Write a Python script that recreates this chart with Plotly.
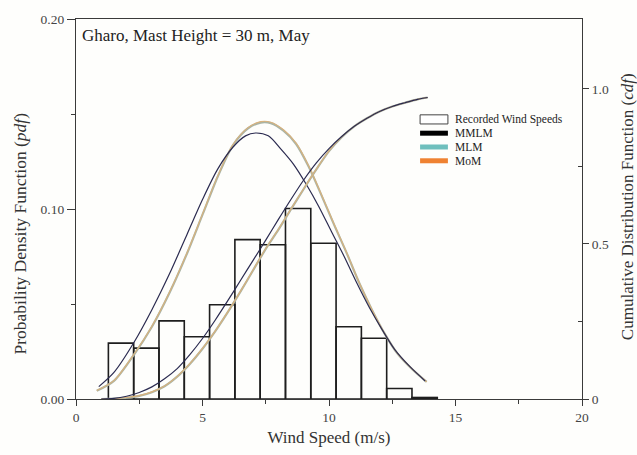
import plotly.graph_objects as go

# ---- data ----
bin_centers = [1.78, 2.78, 3.78, 4.78, 5.78, 6.78, 7.78, 8.78, 9.78, 10.78, 11.78, 12.78, 13.78]
recorded_pdf = [0.0294, 0.0268, 0.0411, 0.0328, 0.0496, 0.0839, 0.0812, 0.1003, 0.0820, 0.0380, 0.0320, 0.0055, 0.0008]

mmlm_pdf_x = [0.9, 1.5, 2.3, 3.0, 3.7, 4.4, 5.0, 5.6, 6.2, 6.7, 7.1, 7.6, 8.1, 8.6, 9.1, 9.6, 10.1, 10.6, 11.1, 11.6, 12.1, 12.6, 13.2, 13.8]
mmlm_pdf_y = [0.0065, 0.014, 0.030, 0.047, 0.066, 0.087, 0.105, 0.121, 0.1325, 0.1385, 0.140, 0.1385, 0.1315, 0.1235, 0.113, 0.1012, 0.088, 0.075, 0.061, 0.048, 0.0365, 0.026, 0.017, 0.0095]

mlm_pdf_x = [0.82, 1.5, 2.3, 3.0, 3.7, 4.4, 5.0, 5.6, 6.2, 6.8, 7.3, 7.7, 8.2, 8.7, 9.2, 9.7, 10.2, 10.7, 11.2, 11.7, 12.2, 12.7, 13.3, 13.86]
mlm_pdf_y = [0.0043, 0.0095, 0.0235, 0.038, 0.056, 0.077, 0.097, 0.117, 0.1335, 0.1425, 0.1455, 0.1452, 0.1412, 0.1342, 0.1222, 0.1073, 0.0918, 0.0768, 0.0609, 0.0469, 0.0344, 0.0240, 0.0155, 0.0090]
mom_pdf_y = [0.0045, 0.0097, 0.0238, 0.0383, 0.0563, 0.0773, 0.0973, 0.1173, 0.1338, 0.1428, 0.1460, 0.1457, 0.1417, 0.1347, 0.1226, 0.1076, 0.0921, 0.0770, 0.0611, 0.0470, 0.0345, 0.0241, 0.0156, 0.0091]

cdf_x = [1.0, 1.5, 2.0, 2.5, 3.0, 3.5, 4.0, 4.5, 5.0, 5.5, 6.0, 6.5, 7.0, 7.5, 8.0, 8.5, 9.0, 9.5, 10.0, 10.5, 11.0, 11.5, 12.0, 12.5, 13.0, 13.5, 13.9]
mmlm_cdf_y = [0.0, 0.002, 0.009, 0.021, 0.039, 0.065, 0.098, 0.143, 0.195, 0.254, 0.317, 0.382, 0.447, 0.512, 0.579, 0.644, 0.706, 0.761, 0.807, 0.846, 0.879, 0.905, 0.927, 0.943, 0.955, 0.966, 0.972]
mlm_cdf_y = [0.0, 0.001, 0.004, 0.010, 0.022, 0.041, 0.072, 0.113, 0.162, 0.218, 0.280, 0.346, 0.415, 0.484, 0.546, 0.612, 0.677, 0.740, 0.799, 0.844, 0.879, 0.905, 0.927, 0.943, 0.955, 0.966, 0.972]
mom_cdf_y = [0.0, 0.001, 0.005, 0.011, 0.023, 0.042, 0.073, 0.114, 0.163, 0.219, 0.281, 0.347, 0.416, 0.485, 0.547, 0.613, 0.678, 0.741, 0.800, 0.845, 0.879, 0.905, 0.927, 0.943, 0.955, 0.966, 0.972]

x_ticks = [0, 5, 10, 15, 20]
pdf_ticks = [0.0, 0.10, 0.20]
cdf_ticks = [0, 0.5, 1.0]
cdf_ticktext = ["0", "0.5", "1.0"]

legend_names = ["Recorded Wind Speeds", "MMLM", "MLM", "MoM"]
legend_colors = [None, "#000000", "#6fbfbd", "#ef8232"]

FONT = "Liberation Serif, Times New Roman, serif"
AX = "#3a3a3a"
NAVY = "#2b2b50"
MLM_DRAWN = "#a9b4a6"
MOM_DRAWN = "#dab27c"

fig = go.Figure()

fig.add_trace(go.Bar(x=bin_centers, y=recorded_pdf, width=1.0, name=legend_names[0], showlegend=False,
                     marker=dict(color="rgba(255,255,255,0)", line=dict(color="#1e1e1e", width=1.6)),
                     yaxis="y"))

fig.add_trace(go.Scatter(x=mlm_pdf_x, y=mlm_pdf_y, mode="lines", name="MLM pdf",
                         line=dict(color=MLM_DRAWN, width=2.2, shape="spline", smoothing=0.8), showlegend=False, yaxis="y"))
fig.add_trace(go.Scatter(x=mlm_pdf_x, y=mom_pdf_y, mode="lines", name="MoM pdf",
                         line=dict(color=MOM_DRAWN, width=1.1, shape="spline", smoothing=0.8), showlegend=False, yaxis="y"))
fig.add_trace(go.Scatter(x=mmlm_pdf_x, y=mmlm_pdf_y, mode="lines", name="MMLM pdf",
                         line=dict(color=NAVY, width=1.2, shape="spline", smoothing=0.8), showlegend=False, yaxis="y"))
fig.add_trace(go.Scatter(x=cdf_x, y=mlm_cdf_y, mode="lines", name="MLM cdf",
                         line=dict(color=MLM_DRAWN, width=2.2, shape="spline", smoothing=0.8), showlegend=False, yaxis="y2"))
fig.add_trace(go.Scatter(x=cdf_x, y=mom_cdf_y, mode="lines", name="MoM cdf",
                         line=dict(color=MOM_DRAWN, width=1.1, shape="spline", smoothing=0.8), showlegend=False, yaxis="y2"))
fig.add_trace(go.Scatter(x=cdf_x, y=mmlm_cdf_y, mode="lines", name="MMLM cdf",
                         line=dict(color=NAVY, width=1.2, shape="spline", smoothing=0.8), showlegend=False, yaxis="y2"))

# ---- legend (drawn in paper coordinates) ----
leg_x0, leg_x1, leg_tx = 0.680, 0.735, 0.745
leg_rows = [0.7358, 0.6995, 0.6632, 0.6269]
fig.add_shape(type="rect", xref="paper", yref="paper", x0=leg_x0, x1=leg_x1,
              y0=leg_rows[0] - 0.012, y1=leg_rows[0] + 0.012,
              line=dict(color="#444", width=1), fillcolor="white")
for name, col, yy in zip(legend_names, legend_colors, leg_rows):
    if col is not None:
        fig.add_shape(type="line", xref="paper", yref="paper", x0=leg_x0, x1=leg_x1, y0=yy, y1=yy,
                      line=dict(color=col, width=5))
    fig.add_annotation(text=name, xref="paper", yref="paper", x=leg_tx, y=yy, xanchor="left", yanchor="middle",
                       showarrow=False, font=dict(family=FONT, size=11.5, color="#222"))

fig.add_annotation(text="Gharo, Mast Height = 30 m, May", xref="paper", yref="paper", x=0.008, y=0.988,
                   xanchor="left", yanchor="top", showarrow=False, font=dict(family=FONT, size=17, color="#222"))

# axis titles
fig.add_annotation(text="Probability Density Function (<i>pdf</i>)", xref="paper", yref="paper",
                   x=-0.111, y=0.435, textangle=-90, showarrow=False, xanchor="center", yanchor="middle",
                   font=dict(family=FONT, size=17.5, color="#333"))
fig.add_annotation(text="Cumulative Distribution Function (<i>cdf</i>)", xref="paper", yref="paper",
                   x=1.089, y=0.505, textangle=-90, showarrow=False, xanchor="center", yanchor="middle",
                   font=dict(family=FONT, size=17, color="#333"))

fig.update_layout(
    width=637, height=455,
    margin=dict(l=76, r=55, t=14, b=55),
    paper_bgcolor="#fefefc", plot_bgcolor="#fefefc",
    font=dict(family=FONT, size=13, color="#333"),
    showlegend=False,
    xaxis=dict(range=[0, 20], tickvals=x_ticks, showgrid=False, zeroline=False,
               showline=True, linecolor=AX, linewidth=1.3, mirror=True,
               ticks="outside", ticklen=6, tickcolor=AX,
               minor=dict(dtick=2.5, ticks="outside", ticklen=4, tickcolor=AX),
               title=dict(text="Wind Speed (m/s)", font=dict(family=FONT, size=17, color="#333"), standoff=6),
               tickfont=dict(family=FONT, size=13.5, color="#444")),
    yaxis=dict(range=[0, 0.2], tickvals=pdf_ticks, tickformat=".2f", showgrid=False, zeroline=False,
               showline=True, linecolor=AX, linewidth=1.3,
               ticks="outside", ticklen=8, tickcolor=AX,
               minor=dict(dtick=0.05, ticks="outside", ticklen=4, tickcolor=AX),
               tickfont=dict(family=FONT, size=13.5, color="#444")),
    yaxis2=dict(range=[0, 1.225], overlaying="y", side="right", tickvals=cdf_ticks, ticktext=cdf_ticktext,
                showgrid=False, zeroline=False, showline=True, linecolor=AX, linewidth=1.3,
                ticks="outside", ticklen=6, tickcolor=AX,
                minor=dict(tickvals=[0.25, 0.75], ticks="inside", ticklen=4, tickcolor=AX),
                tickfont=dict(family=FONT, size=13.5, color="#444")),
)

fig.write_html("out.html")
